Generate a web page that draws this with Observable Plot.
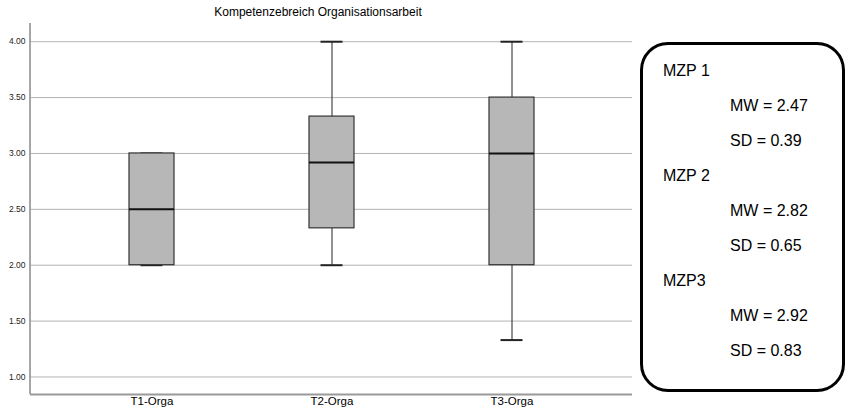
<!DOCTYPE html>
<html>
<head>
<meta charset="utf-8">
<script src="https://cdn.jsdelivr.net/npm/d3@7"></script>
<script src="https://cdn.jsdelivr.net/npm/@observablehq/plot@0.6"></script>
<style>
  html, body { margin: 0; padding: 0; background: #fff; }
  #wrap { position: relative; width: 847px; height: 413px; overflow: hidden; font-family: "Liberation Sans", Arial, sans-serif; }
  #title { position: absolute; left: 0; width: 636px; top: 5px; text-align: center; font-size: 12px; color: #000; }
  #legend { position: absolute; left: 640px; top: 42px; width: 205px; height: 350px; box-sizing: border-box; border: 3px solid #000; border-radius: 28px; }
  .lg { position: absolute; font-size: 16px; color: #000; white-space: nowrap; }
  #chart { position: absolute; left: 0; top: 0; }
</style>
</head>
<body>
<div id="wrap">
  <div id="chart"></div>
  <div id="title"></div>
  <div id="legend"></div>
</div>
<script>
// ---- data ----
const categories = ["T1-Orga", "T2-Orga", "T3-Orga"];
const mins    = [2.00, 2.00, 1.33];
const q1s     = [2.00, 2.33, 2.00];
const medians = [2.50, 2.92, 3.00];
const q3s     = [3.00, 3.33, 3.50];
const maxs    = [3.00, 4.00, 4.00];
const yTicks  = [1.0, 1.5, 2.0, 2.5, 3.0, 3.5, 4.0];
const yDomain = [0.843, 4.163];
const chartTitle = "Kompetenzebreich Organisationsarbeit";

const legendGroups = ["MZP 1", "MZP 2", "MZP3"];
const legendMW = ["2.47", "2.82", "2.92"];
const legendSD = ["0.39", "0.65", "0.83"];

const rows = categories.map((c, i) => ({
  cat: c, min: mins[i], q1: q1s[i], med: medians[i], q3: q3s[i], max: maxs[i]
}));

const font = "'Liberation Sans', Arial, sans-serif";

// left axis line drawn along the plot frame's left edge
function leftAxisLine(index, scales, values, dim) {
  return d3.create("svg:line")
    .attr("x1", dim.marginLeft).attr("x2", dim.marginLeft)
    .attr("y1", dim.marginTop).attr("y2", dim.height - dim.marginBottom)
    .attr("stroke", "#8a8a8a").attr("stroke-width", 1.5)
    .node();
}

const chart = Plot.plot({
  width: 847,
  height: 413,
  marginLeft: 30,
  marginRight: 215,
  marginTop: 23,
  marginBottom: 19,
  style: { fontFamily: font, background: "transparent", overflow: "visible" },
  x: { domain: categories, paddingInner: 0.7507, paddingOuter: 0.543, label: null },
  y: { domain: yDomain, label: null },
  marks: [
    Plot.gridY(yTicks, { stroke: "#b4b4b4", strokeOpacity: 1, strokeWidth: 1 }),
    Plot.axisY(yTicks, { tickSize: 0, tickPadding: 5, fontSize: 8.5, tickFormat: d3.format(".2f"), fill: "#222" }),
    Plot.axisX({ tickSize: 0, tickPadding: 2, fontSize: 11.5, fill: "#000" }),
    Plot.ruleX(rows, { x: "cat", y1: "q3", y2: "max", stroke: "#222", strokeWidth: 1 }),
    Plot.ruleX(rows, { x: "cat", y1: "min", y2: "q1", stroke: "#222", strokeWidth: 1 }),
    Plot.tickY(rows, { x: "cat", y: "max", stroke: "#222", strokeWidth: 2, insetLeft: 11.5, insetRight: 11.5 }),
    Plot.tickY(rows, { x: "cat", y: "min", stroke: "#222", strokeWidth: 2, insetLeft: 11.5, insetRight: 11.5 }),
    Plot.barY(rows, { x: "cat", y1: "q1", y2: "q3", fill: "#b7b7b8", stroke: "#333", strokeWidth: 1.2 }),
    Plot.tickY(rows, { x: "cat", y: "med", stroke: "#111", strokeWidth: 2 }),
    Plot.ruleY([yDomain[0]], { stroke: "#9a9a9a", strokeWidth: 2 }),
    leftAxisLine
  ]
});
document.getElementById("chart").appendChild(chart);
document.getElementById("title").textContent = chartTitle;

// legend box (text annotation)
const legend = document.getElementById("legend");
const lineH = 35;
legendGroups.forEach((g, i) => {
  const items = [
    { t: g, x: 20 },
    { t: "MW = " + legendMW[i], x: 87 },
    { t: "SD = " + legendSD[i], x: 87 }
  ];
  items.forEach((it, j) => {
    const d = document.createElement("div");
    d.className = "lg";
    d.textContent = it.t;
    d.style.left = it.x + "px";
    d.style.top = (17 + (i * 3 + j) * lineH) + "px";
    legend.appendChild(d);
  });
});
</script>
</body>
</html>
